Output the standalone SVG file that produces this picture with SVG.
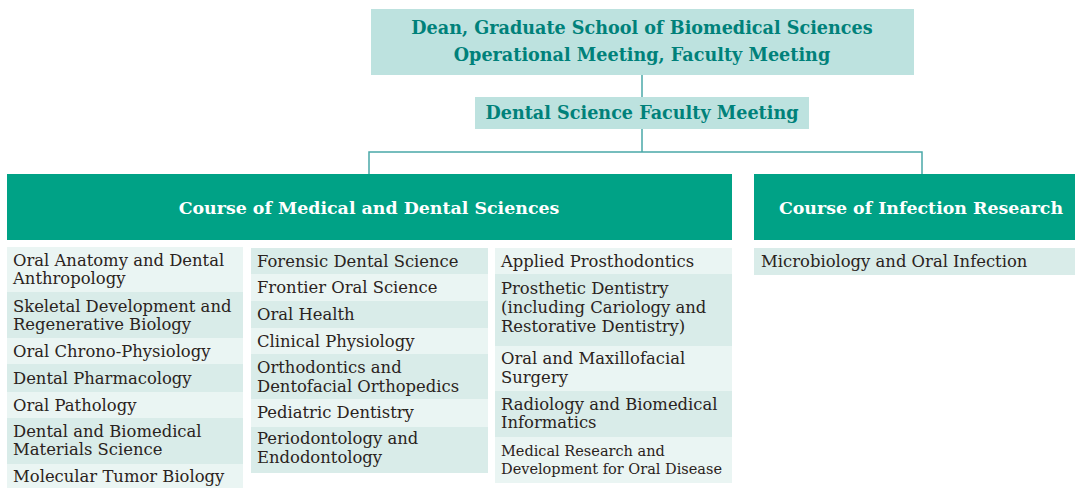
<svg xmlns="http://www.w3.org/2000/svg" width="1075" height="488" viewBox="0 0 1075 488">
<style>
.hbox{fill:#bde2df}
.htxt{font-family:"DejaVu Serif",serif;font-weight:bold;font-size:17.6px;fill:#00817a;text-anchor:middle}
.gbox{fill:#00a286}
.gtxt{font-family:"DejaVu Serif",serif;font-weight:bold;font-size:17.4px;fill:#ffffff;text-anchor:middle}
.lt{fill:#eaf5f3}
.dk{fill:#d9ece9}
.t{font-family:"DejaVu Serif",serif;font-size:16.4px;fill:#2a2320}
.ts{font-family:"DejaVu Serif",serif;font-size:14.5px;fill:#2a2320}
.conn{fill:none;stroke:#4aa8a8;stroke-width:1.5}
</style>
<rect width="1075" height="488" fill="#ffffff"/>
<g id="connectors">
<path class="conn" d="M642 75V97"/>
<path class="conn" d="M642 129V152M369 174V152H922V174"/>
</g>
<g id="dean">
<rect class="hbox" x="371" y="9" width="543" height="66"/>
<text class="htxt" x="642" y="34">Dean, Graduate School of Biomedical Sciences</text>
<text class="htxt" x="642" y="61">Operational Meeting, Faculty Meeting</text>
</g>
<g id="faculty-meeting">
<rect class="hbox" x="475" y="97" width="334" height="32"/>
<text class="htxt" x="642" y="119">Dental Science Faculty Meeting</text>
</g>
<g id="course-medical">
<rect class="gbox" x="7" y="174" width="725" height="66"/>
<text class="gtxt" x="369" y="214">Course of Medical and Dental Sciences</text>
</g>
<g id="course-infection">
<rect class="gbox" x="754" y="174" width="321" height="66"/>
<text class="gtxt" x="921" y="214">Course of Infection Research</text>
</g>
<g id="col1">
<rect class="lt" x="7" y="247" width="236" height="45"/>
<text class="t" x="13" y="266">Oral Anatomy and Dental</text>
<text class="t" x="13" y="284">Anthropology</text>
<rect class="dk" x="7" y="292" width="236" height="46"/>
<text class="t" x="13" y="312">Skeletal Development and</text>
<text class="t" x="13" y="330">Regenerative Biology</text>
<rect class="lt" x="7" y="338" width="236" height="26"/>
<text class="t" x="13" y="357">Oral Chrono-Physiology</text>
<rect class="dk" x="7" y="364" width="236" height="28"/>
<text class="t" x="13" y="384">Dental Pharmacology</text>
<rect class="lt" x="7" y="392" width="236" height="26"/>
<text class="t" x="13" y="411">Oral Pathology</text>
<rect class="dk" x="7" y="418" width="236" height="46"/>
<text class="t" x="13" y="437">Dental and Biomedical</text>
<text class="t" x="13" y="455">Materials Science</text>
<rect class="lt" x="7" y="464" width="236" height="24"/>
<text class="t" x="13" y="482">Molecular Tumor Biology</text>
</g>
<g id="col2">
<rect class="dk" x="251" y="248" width="237" height="26"/>
<text class="t" x="257" y="267">Forensic Dental Science</text>
<rect class="lt" x="251" y="274" width="237" height="27"/>
<text class="t" x="257" y="293">Frontier Oral Science</text>
<rect class="dk" x="251" y="301" width="237" height="27"/>
<text class="t" x="257" y="320">Oral Health</text>
<rect class="lt" x="251" y="328" width="237" height="26"/>
<text class="t" x="257" y="347">Clinical Physiology</text>
<rect class="dk" x="251" y="354" width="237" height="45"/>
<text class="t" x="257" y="373">Orthodontics and</text>
<text class="t" x="257" y="392">Dentofacial Orthopedics</text>
<rect class="lt" x="251" y="399" width="237" height="28"/>
<text class="t" x="257" y="418">Pediatric Dentistry</text>
<rect class="dk" x="251" y="427" width="237" height="46"/>
<text class="t" x="257" y="444">Periodontology and</text>
<text class="t" x="257" y="463">Endodontology</text>
</g>
<g id="col3">
<rect class="lt" x="495" y="248" width="237" height="26"/>
<text class="t" x="501" y="267">Applied Prosthodontics</text>
<rect class="dk" x="495" y="274" width="237" height="72"/>
<text class="t" x="501" y="294">Prosthetic Dentistry</text>
<text class="t" x="501" y="313">(including Cariology and</text>
<text class="t" x="501" y="332">Restorative Dentistry)</text>
<rect class="lt" x="495" y="346" width="237" height="45"/>
<text class="t" x="501" y="364">Oral and Maxillofacial</text>
<text class="t" x="501" y="383">Surgery</text>
<rect class="dk" x="495" y="391" width="237" height="46"/>
<text class="t" x="501" y="410">Radiology and Biomedical</text>
<text class="t" x="501" y="428">Informatics</text>
<rect class="lt" x="495" y="437" width="237" height="46"/>
<text class="ts" x="501" y="456">Medical Research and</text>
<text class="ts" x="501" y="474">Development for Oral Disease</text>
</g>
<g id="col4">
<rect class="dk" x="754" y="248" width="321" height="27"/>
<text class="t" x="761" y="267">Microbiology and Oral Infection</text>
</g>
</svg>
